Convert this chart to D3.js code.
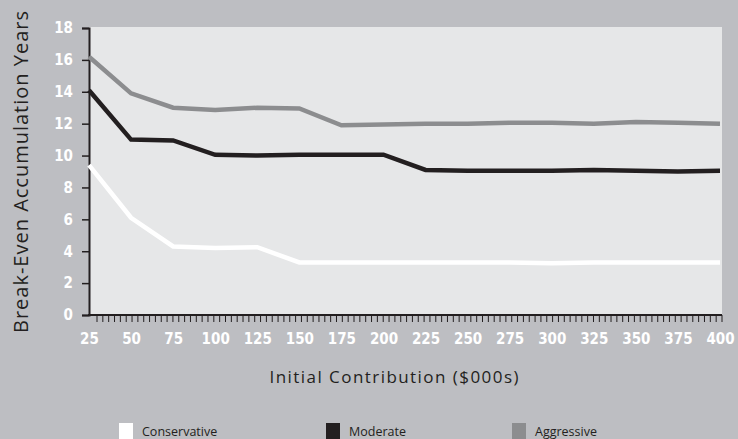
<!DOCTYPE html>
<html>
<head>
<meta charset="utf-8">
<script src="https://cdn.jsdelivr.net/npm/d3@7"></script>
<style>
  html, body { margin: 0; padding: 0; background: #bdbec2; }
  svg { display: block; }
</style>
</head>
<body>
<svg id="chart" width="738" height="439"></svg>
<script>
// Initial contribution in $000s
const contributions = [25, 50, 75, 100, 125, 150, 175, 200, 225, 250, 275, 300, 325, 350, 375, 400];
// Break-even accumulation years for each strategy
const conservative = [9.4, 6.1, 4.3, 4.2, 4.25, 3.3, 3.3, 3.3, 3.3, 3.3, 3.3, 3.25, 3.3, 3.3, 3.3, 3.3];
const moderate     = [14.1, 11.0, 10.95, 10.05, 10.0, 10.05, 10.05, 10.05, 9.1, 9.05, 9.05, 9.05, 9.1, 9.05, 9.0, 9.05];
const aggressive   = [16.2, 13.9, 13.0, 12.85, 13.0, 12.95, 11.9, 11.95, 12.0, 12.0, 12.05, 12.05, 12.0, 12.1, 12.05, 12.0];
const yTicks = [0, 2, 4, 6, 8, 10, 12, 14, 16, 18];
const seriesNames = ["Conservative", "Moderate", "Aggressive"];
const seriesColors = ["#ffffff", "#231f20", "#8c8d8f"];

const svg = d3.select("#chart");
const plotLeft = 89, plotRight = 720, plotTop = 27, plotBottom = 315;
const labelFont = "'DejaVu Sans Condensed', 'DejaVu Sans', sans-serif";
const titleFont = "'Open Sans', 'DejaVu Sans', sans-serif";

const x = d3.scaleLinear().domain([25, 400]).range([plotLeft, plotRight]);
const y = d3.scaleLinear().domain([0, 18]).range([plotBottom, plotTop + 1]);

// plot panel
svg.append("rect")
  .attr("x", plotLeft).attr("y", plotTop)
  .attr("width", 722 - plotLeft).attr("height", plotBottom - plotTop)
  .attr("fill", "#e6e7e8");

// y axis
const yAxis = svg.append("g")
  .attr("transform", `translate(${plotLeft},0)`)
  .call(d3.axisLeft(y).tickValues(yTicks).tickSize(7).tickPadding(9));
yAxis.select(".domain").attr("stroke", "#231f20").attr("stroke-width", 2);
yAxis.selectAll(".tick line").attr("stroke", "#231f20").attr("stroke-width", 1.5);
yAxis.selectAll(".tick text")
  .attr("fill", "#ffffff")
  .style("font-family", labelFont)
  .style("font-weight", "bold")
  .style("font-size", "15px");

// x axis baseline
svg.append("line")
  .attr("x1", plotLeft - 1).attr("x2", 722)
  .attr("y1", plotBottom).attr("y2", plotBottom)
  .attr("stroke", "#231f20").attr("stroke-width", 2);

// minor ticks along the x axis
const minorTicks = d3.range(0, 108).map(i => 97 + i * (722 - 97) / 107);
svg.append("g").selectAll("line")
  .data(minorTicks)
  .join("line")
  .attr("x1", d => d).attr("x2", d => d)
  .attr("y1", plotBottom).attr("y2", plotBottom + 7)
  .attr("stroke", "#231f20").attr("stroke-width", 1);

// x tick labels
const xAxis = svg.append("g")
  .attr("transform", `translate(0,${plotBottom})`)
  .call(d3.axisBottom(x).tickValues(contributions).tickSize(0).tickPadding(18));
xAxis.select(".domain").remove();
xAxis.selectAll(".tick text")
  .attr("fill", "#ffffff")
  .style("font-family", labelFont)
  .style("font-weight", "bold")
  .style("font-size", "15px");

// series lines
const line = d3.line()
  .x((d, i) => x(contributions[i]))
  .y(d => y(d));

[conservative, moderate, aggressive].forEach((vals, k) => {
  svg.append("path")
    .datum(vals)
    .attr("d", line)
    .attr("fill", "none")
    .attr("stroke", seriesColors[k])
    .attr("stroke-width", 4.5)
    .attr("stroke-linejoin", "miter");
});

// axis titles
svg.append("text")
  .attr("transform", "translate(28,172) rotate(-90)")
  .attr("text-anchor", "middle")
  .attr("fill", "#231f20")
  .attr("textLength", 322)
  .attr("lengthAdjust", "spacing")
  .style("font-family", titleFont)
  .style("font-size", "20px")
  .text("Break-Even Accumulation Years");

svg.append("text")
  .attr("x", 394).attr("y", 383)
  .attr("text-anchor", "middle")
  .attr("fill", "#231f20")
  .attr("textLength", 249)
  .attr("lengthAdjust", "spacing")
  .style("font-family", titleFont)
  .style("font-size", "17px")
  .text("Initial Contribution ($000s)");

// legend
const legendX = [119, 326, 512];
const legend = svg.append("g").selectAll("g")
  .data(seriesNames)
  .join("g")
  .attr("transform", (d, i) => `translate(${legendX[i]},423)`);
legend.append("rect")
  .attr("width", 14).attr("height", 16)
  .attr("fill", (d, i) => seriesColors[i]);
legend.append("text")
  .attr("x", 23).attr("y", 12.5)
  .attr("fill", "#231f20")
  .style("font-family", titleFont)
  .style("font-size", "12.5px")
  .text(d => d);
</script>
</body>
</html>
